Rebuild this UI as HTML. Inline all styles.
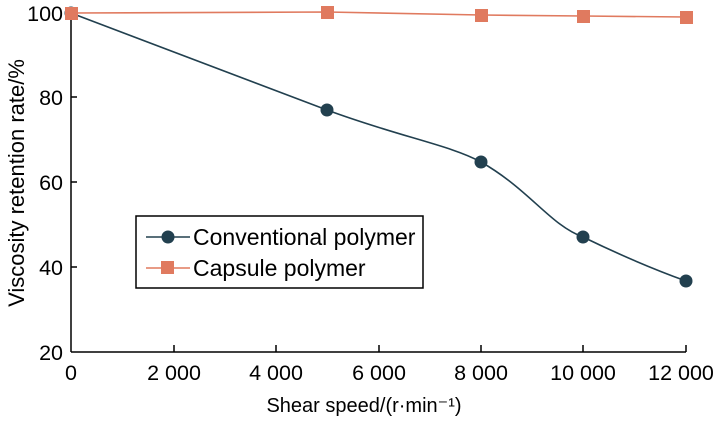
<!DOCTYPE html>
<html><head><style>
body{margin:0;background:#fff;}
text{font-family:"Liberation Sans",Arial,sans-serif;fill:#000;}
</style></head><body>
<svg width="726" height="420" viewBox="0 0 726 420" xmlns="http://www.w3.org/2000/svg">
<g stroke="#000" stroke-width="1.5" fill="none">
<line x1="71" y1="12" x2="71" y2="352"/>
<line x1="71" y1="352" x2="686" y2="352"/>
<line x1="71" y1="97" x2="77" y2="97"/>
<line x1="71" y1="182" x2="77" y2="182"/>
<line x1="71" y1="267" x2="77" y2="267"/>
<line x1="174" y1="352" x2="174" y2="345"/>
<line x1="276" y1="352" x2="276" y2="345"/>
<line x1="379" y1="352" x2="379" y2="345"/>
<line x1="481" y1="352" x2="481" y2="345"/>
<line x1="583" y1="352" x2="583" y2="345"/>
<line x1="686" y1="352" x2="686" y2="345"/>
</g>
<g font-size="21.5" text-anchor="end">
<text x="63" y="21">100</text>
<text x="63" y="105">80</text>
<text x="63" y="190">60</text>
<text x="63" y="275">40</text>
<text x="63" y="360">20</text>
</g>
<g font-size="21.5" text-anchor="middle">
<text x="71" y="380">0</text>
<text x="174" y="380">2 000</text>
<text x="276" y="380">4 000</text>
<text x="379" y="380">6 000</text>
<text x="481" y="380">8 000</text>
<text x="583" y="380">10 000</text>
<text x="681" y="380">12 000</text>
</g>
<text x="364" y="412" font-size="20" text-anchor="middle">Shear speed/(r·min⁻¹)</text>
<text font-size="22" text-anchor="middle" transform="translate(24,183) rotate(-90)">Viscosity retention rate/%</text>
<path d="M71,13 L327,110 C400,137 450,145 481,162 C530,190 550,225 583,237 C620,255 650,268 686,281" stroke="#22404f" stroke-width="1.6" fill="none"/>
<path d="M71,13 L327,12 L481,15 L583,16 L686,17" stroke="#e07a5f" stroke-width="1.6" fill="none"/>
<g fill="#22404f">
<circle cx="71" cy="13" r="6.5"/><circle cx="327" cy="110" r="6.5"/><circle cx="481" cy="162" r="6.5"/><circle cx="583" cy="237" r="6.5"/><circle cx="686" cy="281" r="6.5"/>
</g>
<g fill="#e07a5f">
<rect x="65" y="7" width="13" height="13"/><rect x="321" y="6" width="13" height="13"/><rect x="475" y="9" width="13" height="13"/><rect x="577" y="10" width="13" height="13"/><rect x="680" y="11" width="13" height="13"/>
</g>
<rect x="136" y="216" width="287" height="72" fill="#fff" stroke="#000" stroke-width="1.5"/>
<line x1="146" y1="237" x2="190" y2="237" stroke="#22404f" stroke-width="1.6"/>
<circle cx="168" cy="237" r="6.5" fill="#22404f"/>
<line x1="146" y1="268" x2="190" y2="268" stroke="#e07a5f" stroke-width="1.6"/>
<rect x="161" y="261" width="13" height="13" fill="#e07a5f"/>
<text x="193" y="245" font-size="23">Conventional polymer</text>
<text x="193" y="276" font-size="23">Capsule polymer</text>
</svg>
</body></html>
